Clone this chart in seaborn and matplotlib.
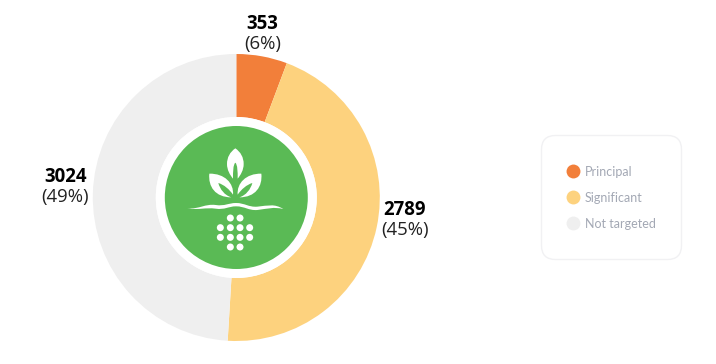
import matplotlib
matplotlib.use("Agg")
import matplotlib.pyplot as plt
from matplotlib.patches import Circle, PathPatch, FancyBboxPatch
from matplotlib.path import Path
from matplotlib.lines import Line2D
import seaborn as sns

categories = ["Principal", "Significant", "Not targeted"]
values = [353, 2789, 3024]
percent_labels = ["(6%)", "(45%)", "(49%)"]
colors = ["#f27f3a", "#fdd27e", "#efefef"]

sns.set_theme(style="white")
W, H = 716, 364
fig = plt.figure(figsize=(W / 100, H / 100), dpi=100, facecolor="white")
ax = fig.add_axes([0, 0, 1, 1])

cx, cy = 236.3, H - 197.5
R = 143.5
inner = 80.5
ax.pie(values, colors=colors, startangle=90, counterclock=False, center=(cx, cy),
       radius=R, frame=True, wedgeprops=dict(width=R - inner, linewidth=0))
ax.set_xlim(0, W)
ax.set_ylim(0, H)
ax.set_aspect("equal")
ax.axis("off")

ax.add_patch(Circle((cx, cy), inner, fc="white", ec="none", zorder=3))
ax.add_patch(Circle((cx, cy), 71.5, fc="#5aba55", ec="none", zorder=4))


def z(zx, zy):
    return (150 + zx / 3, H - (120 + zy / 3))


def shape(pts, **kw):
    codes = [Path.MOVETO] + [Path.CURVE4] * (len(pts) - 2) + [Path.CLOSEPOLY]
    ax.add_patch(PathPatch(Path([z(*p) for p in pts], codes), **kw))


icon = dict(fc="white", ec="none", zorder=5)
top = [(256, 85), (240, 96), (231, 112), (231, 132),
       (231, 150), (240, 165), (249, 176),
       (249, 155), (249, 135), (256, 128),
       (263, 135), (263, 155), (263, 176),
       (272, 165), (281, 150), (281, 132),
       (281, 112), (272, 96), (256, 85), (256, 85)]
shape(top, **icon)
left = [(178, 161), (174, 200), (196, 232), (244, 232),
        (224, 226), (210, 208), (205, 189),
        (222, 194), (238, 208), (249, 224),
        (252, 190), (224, 160), (178, 161), (178, 161)]
shape(left, **icon)
shape([(2 * 256 - x, y) for x, y in left], **icon)
wave = [(112, 266), (150, 267), (165, 251), (197, 255),
        (225, 259), (235, 249), (258, 249),
        (285, 249), (295, 262), (322, 260),
        (355, 257), (372, 250), (400, 267),
        (370, 260), (355, 266), (322, 270),
        (295, 272), (285, 259), (258, 259),
        (235, 259), (225, 270), (197, 266),
        (165, 262), (150, 270), (112, 266), (112, 266)]
shape(wave, **icon)
for zy, xs in [(294, (241, 270)), (323, (211, 241, 270, 299)),
               (352, (211, 241, 270, 299)), (381, (241, 270))]:
    for zx in xs:
        ax.add_patch(Circle(z(zx, zy), 3.5, fc="white", ec="none", zorder=5))

label_font = "Open Sans"
label_pos = [(262.5, 24, 44), (405, 210, 230), (65.5, 177, 197)]
for v, p, (x, y1, y2) in zip(values, percent_labels, label_pos):
    ax.text(x, H - y1, str(v), ha="center", va="center", fontsize=13.4,
            fontweight="bold", color="black", family=label_font)
    ax.text(x, H - y2, p, ha="center", va="center", fontsize=13.4,
            color="#222222", family=label_font)

ax.add_patch(FancyBboxPatch((541.5, H - 259.5), 140, 124,
                            boxstyle="round,pad=0,rounding_size=14",
                            fc="white", ec="#f1f1f3", lw=1, zorder=2))

handles = [Line2D([], [], linestyle="", marker="o", markersize=10,
                  markerfacecolor=c, markeredgecolor="none") for c in colors]
leg = ax.legend(handles, categories, loc="upper left",
                bbox_to_anchor=(565.5 / W, 1 - 165.8 / H),
                bbox_transform=ax.transAxes, frameon=False,
                borderaxespad=0, borderpad=0, labelspacing=1.12,
                handletextpad=0.36, handlelength=1.2,
                prop=dict(family="Lato", size=9.0), labelcolor="#a3a8b4")
leg.set_zorder(6)
fig.savefig("out.png", dpi=100, facecolor="white")
